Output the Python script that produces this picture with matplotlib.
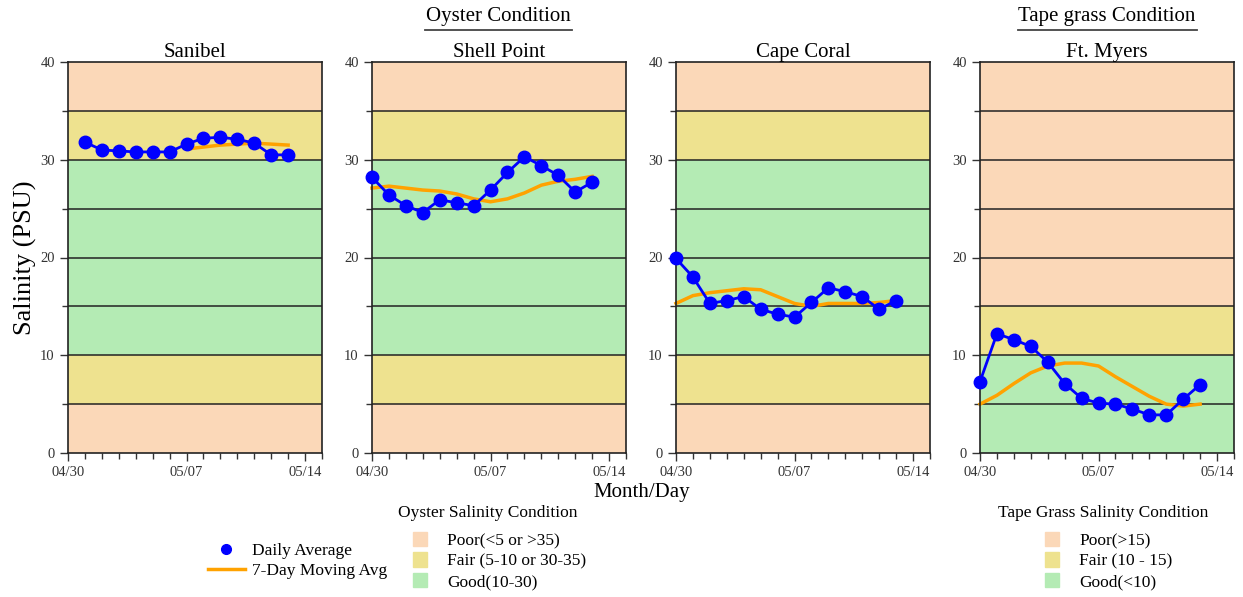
import matplotlib
matplotlib.use("Agg")
from matplotlib import pyplot as plt
import matplotlib.dates as mdates
from matplotlib.lines import Line2D
from matplotlib.patches import Patch
import pandas as pd

plt.rcParams['font.family'] = ['Liberation Serif', 'DejaVu Serif']

# data
sites = ["Sanibel", "Shell Point", "Cape Coral", "Ft. Myers"]
start_days = ["2024-05-01", "2024-04-30", "2024-04-30", "2024-04-30"]
ma_start_days = ["2024-05-07", "2024-04-30", "2024-04-30", "2024-04-30"]

sanibel_daily = [31.8, 31.0, 30.9, 30.8, 30.8, 30.8, 31.6, 32.2, 32.3, 32.1, 31.7, 30.5, 30.5]
sanibel_ma = [31.1, 31.3, 31.5, 31.6, 31.7, 31.6, 31.5]

shell_daily = [28.2, 26.4, 25.3, 24.6, 25.9, 25.6, 25.3, 26.9, 28.7, 30.3, 29.4, 28.4, 26.7, 27.7]
shell_ma = [27.1, 27.3, 27.1, 26.9, 26.8, 26.5, 26.0, 25.7, 26.0, 26.6, 27.4, 27.8, 28.0, 28.3]

cape_daily = [19.9, 18.0, 15.3, 15.6, 16.0, 14.7, 14.2, 13.9, 15.4, 16.9, 16.5, 16.0, 14.7, 15.6]
cape_ma = [15.3, 16.1, 16.4, 16.6, 16.8, 16.7, 16.0, 15.3, 15.0, 15.3, 15.3, 15.3, 15.4, 15.6]

myers_daily = [7.3, 12.2, 11.6, 10.9, 9.3, 7.1, 5.6, 5.1, 5.0, 4.5, 3.9, 3.9, 5.5, 7.0]
myers_ma = [5.0, 5.9, 7.1, 8.2, 8.9, 9.2, 9.2, 8.9, 7.8, 6.8, 5.8, 5.0, 4.8, 5.0]

daily = [sanibel_daily, shell_daily, cape_daily, myers_daily]
moving = [sanibel_ma, shell_ma, cape_ma, myers_ma]

# salinity bands (low, high, condition)
oyster_bands = [(0, 5, "poor"), (5, 10, "fair"), (10, 30, "good"), (30, 35, "fair"), (35, 40, "poor")]
tape_bands = [(0, 10, "good"), (10, 15, "fair"), (15, 40, "poor")]
band_colors = {"poor": "#FBD8B8", "fair": "#EEE28F", "good": "#B4EBB4"}

oyster_labels = ["Poor(<5 or >35)", "Fair (5-10 or 30-35)", "Good(10-30)"]
tape_labels = ["Poor(>15)", "Fair (10 - 15)", "Good(<10)"]

fig = plt.figure(figsize=(12.43, 5.97), dpi=100)
W, H = 1243, 597
lefts = [68, 372, 676, 980]

x0 = pd.Timestamp("2024-04-30")
x1 = pd.Timestamp("2024-05-15")

for i, site in enumerate(sites):
    ax = fig.add_axes([lefts[i] / W, (H - 453) / H, 254 / W, 391 / H])
    bands = tape_bands if i == 3 else oyster_bands
    for lo, hi, cond in bands:
        ax.axhspan(lo, hi, color=band_colors[cond], zorder=0, lw=0)
    for y in range(5, 40, 5):
        ax.axhline(y, color="#222222", lw=1.1, zorder=1)

    d = pd.date_range(start_days[i], periods=len(daily[i]), freq="D")
    m = pd.date_range(ma_start_days[i], periods=len(moving[i]), freq="D")
    ax.plot(m, moving[i], color="#FFA200", lw=2.5, zorder=2, clip_on=False)
    ax.plot(d, daily[i], color="#0000FF", lw=2, marker="o", ms=9, zorder=3, clip_on=False)

    ax.set_xlim(x0, x1)
    ax.set_ylim(0, 40)
    ax.set_yticks([0, 10, 20, 30, 40])
    ax.set_yticks([5, 15, 25, 35], minor=True)
    ax.set_xticks(pd.to_datetime(["2024-04-30", "2024-05-07", "2024-05-14"]))
    ax.xaxis.set_minor_locator(mdates.DayLocator())
    ax.xaxis.set_major_formatter(mdates.DateFormatter("%m/%d"))
    ax.tick_params(which="major", length=6, width=1, labelsize=10.5, colors="#333333", labelcolor="#333333")
    ax.tick_params(which="minor", length=4, width=1, colors="#333333")
    for s in ax.spines.values():
        s.set_color("#222222")
        s.set_linewidth(1.2)
    ax.set_title(site, fontsize=15, pad=1)

fig.text(25 / W, 1 - 258 / H, "Salinity (PSU)", rotation=90, fontsize=19, ha="center", va="center")
fig.text(642 / W, 1 - 492 / H, "Month/Day", fontsize=15, ha="center", va="center")

# group headings with underline
fig.text(498 / W, 1 - 17 / H, "Oyster Condition", fontsize=15, ha="center", va="center")
fig.add_artist(Line2D([425 / W, 572 / W], [1 - 30 / H, 1 - 30 / H], color="#444444", lw=1.3))
fig.text(1107 / W, 1 - 17 / H, "Tape grass Condition", fontsize=15, ha="center", va="center")
fig.add_artist(Line2D([1018 / W, 1197 / W], [1 - 30 / H, 1 - 30 / H], color="#444444", lw=1.3))

# series legend
series_handles = [
    Line2D([], [], color="#0000FF", marker="o", ls="none", ms=7),
    Line2D([], [], color="#FFA200", lw=2.5),
]
fig.legend(series_handles, ["Daily Average", "7-Day Moving Avg"], loc="center left",
           bbox_to_anchor=(192 / W, 1 - 561 / H), frameon=False, fontsize=12.5,
           handlelength=2.13, handletextpad=0.45, labelspacing=0.22)

cond_order = ["poor", "fair", "good"]
oyster_handles = [Patch(color=band_colors[c]) for c in cond_order]
tape_handles = [Patch(color=band_colors[c]) for c in cond_order]

fig.text(488 / W, 1 - 513 / H, "Oyster Salinity Condition", fontsize=12.5, ha="center", va="center")
fig.legend(oyster_handles, oyster_labels, loc="center left",
           bbox_to_anchor=(397 / W, 1 - 561 / H), frameon=False, fontsize=12.5,
           handlelength=0.8, handleheight=0.9, handletextpad=1.2, labelspacing=0.2)

fig.text(1103 / W, 1 - 513 / H, "Tape Grass Salinity Condition", fontsize=12.5, ha="center", va="center")
fig.legend(tape_handles, tape_labels, loc="center left",
           bbox_to_anchor=(1029 / W, 1 - 561 / H), frameon=False, fontsize=12.5,
           handlelength=0.8, handleheight=0.9, handletextpad=1.2, labelspacing=0.2)

fig.savefig("out.png", dpi=100)
